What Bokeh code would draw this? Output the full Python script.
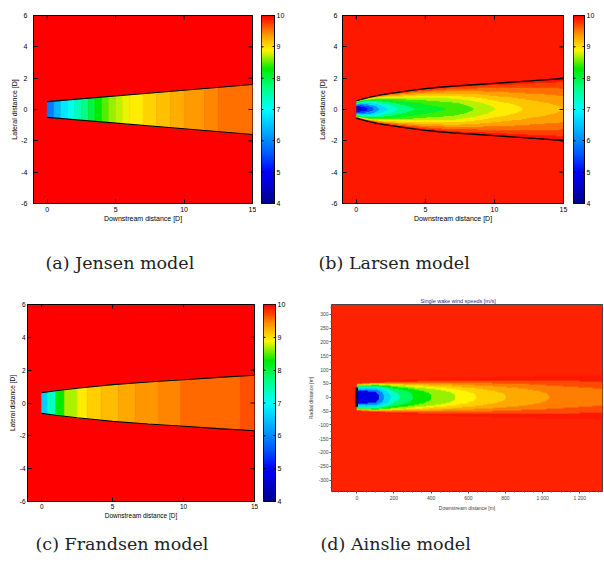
import numpy as np
from bokeh.plotting import figure
from bokeh.layouts import row, column
from bokeh.models import Range1d, FixedTicker, LinearColorMapper
from bokeh.embed import file_html
from bokeh.resources import INLINE
from bokeh.core.properties import value

# ---------------- values ----------------
cbar_ticks = [4, 5, 6, 7, 8, 9, 10]
cbar_labels = ["4", "5", "6", "7", "8", "9", "10"]
d_xticks = [0, 5, 10, 15]
d_xlabels = ["0", "5", "10", "15"]
d_yticks = [-6, -4, -2, 0, 2, 4, 6]
d_ylabels = ["-6", "-4", "-2", "0", "2", "4", "6"]

# (a) Jensen model: top-hat strips along the wake
jensen_edges = [0, 0.5, 1.0, 1.5, 2.0, 2.5, 3.0, 3.5, 4.0, 4.5, 5.0, 5.5, 6.0,
                7.0, 8.0, 9.0, 10.0, 11.5, 12.5, 15.0]
jensen_speed = [5.9, 6.4, 6.8, 7.1, 7.4, 7.7, 8.0, 8.3, 8.5, 8.65, 8.75, 8.85,
                8.95, 9.08, 9.18, 9.28, 9.38, 9.46, 9.55]
jensen_bx = [0, 15]
jensen_bw = [0.5, 1.6]

# (b) Larsen model: centre-line speed and wake half width
larsen_x = [0, 0.25, 0.5, 1, 1.5, 2, 3, 4, 5, 6, 7, 8.5, 10, 12.6, 15]
larsen_center = [4.2, 4.45, 4.7, 5.4, 6.2, 6.8, 7.5, 7.85, 8.1, 8.25, 8.35, 8.6, 8.85, 9.1, 9.25]
larsen_halfwidth = [0.55, 0.62, 0.68, 0.79, 0.88, 0.96, 1.09, 1.22, 1.33, 1.42, 1.49, 1.58,
                    1.67, 1.83, 1.98]
larsen_levels = [4, 4.6, 5.2, 5.8, 6.4, 7.0, 7.5, 7.9, 8.3, 8.6, 8.85, 9.05, 9.25,
                 9.45, 9.65, 9.85, 10.01]

# (c) Frandsen model: top-hat strips
frandsen_edges = [0, 0.4, 1.0, 1.6, 2.5, 3.2, 4.2, 5.4, 6.6, 8.2, 9.8, 14.0, 15.0]
frandsen_speed = [6.6, 7.3, 8.3, 8.7, 8.95, 9.1, 9.2, 9.3, 9.4, 9.47, 9.58, 9.68]
frandsen_bx = [0, 1, 2.5, 5, 7.5, 10, 12.5, 15]
frandsen_bw = [0.63, 0.75, 0.9, 1.12, 1.28, 1.42, 1.56, 1.69]

# (d) Ainslie model [m]
ainslie_x = [0, 50, 100, 150, 200, 300, 400, 550, 700, 900, 1100, 1320]
ainslie_center = [4.7, 4.8, 5.1, 6.4, 7.4, 8.1, 8.5, 8.85, 9.1, 9.3, 9.45, 9.55]
ainslie_halfwidth = [52, 54, 56, 58, 60, 63, 66, 69, 72, 75, 77, 80]
ainslie_levels = [4, 5.6, 6.3, 7.0, 7.6, 8.1, 8.5, 8.8, 9.0, 9.2, 9.4, 9.6, 9.8, 10.01]
ainslie_rotor_y = [-35, 35]
a_xticks = [0, 200, 400, 600, 800, 1000, 1200]
a_xlabels = ["0", "200", "400", "600", "800", "1 000", "1 200"]
a_yticks = [300, 250, 200, 150, 100, 50, 0, -50, -100, -150, -200, -250, -300]
a_ylabels = ["300", "250", "200", "150", "100", "50", "0", "-50", "-100", "-150",
             "-200", "-250", "-300"]
free_stream = 10

captions = ["(a) Jensen model", "(b) Larsen model", "(c) Frandsen model", "(d) Ainslie model"]

# ---------------- colour map (jet-like, as on the colour bars) ----------------
cmap_v = [4.0, 5.0, 5.6, 7.0, 7.7, 8.3, 8.9, 9.4, 10.0]
cmap_r = [0, 0, 0, 0, 0, 0, 255, 255, 255]
cmap_g = [0, 0, 90, 255, 255, 235, 245, 150, 0]
cmap_b = [140, 255, 255, 255, 130, 0, 0, 0, 0]


def rgb_of(v):
    v = np.asarray(v, dtype=float)
    return np.stack([np.interp(v, cmap_v, cmap_r), np.interp(v, cmap_v, cmap_g),
                     np.interp(v, cmap_v, cmap_b)], axis=-1).round().astype(int)


def hex_of(v):
    r, g, b = rgb_of(v)
    return "#%02x%02x%02x" % (r, g, b)


palette256 = [hex_of(v) for v in np.linspace(4, 10, 256)]
mapper = LinearColorMapper(palette=palette256, low=4, high=10)

SANS = "Liberation Sans"


def style_axis(ax, fs, tick_std, lab_std, tin=4, tout=0, color="black"):
    ax.major_label_text_font = SANS
    ax.major_label_text_font_size = fs
    ax.major_label_text_color = color
    ax.axis_label_text_font = SANS
    ax.axis_label_text_font_size = fs
    ax.axis_label_text_font_style = "normal"
    ax.axis_label_text_color = color
    ax.major_label_standoff = tick_std
    ax.axis_label_standoff = lab_std
    ax.major_tick_in = tin
    ax.major_tick_out = tout
    ax.minor_tick_in = 0
    ax.minor_tick_out = 0
    ax.axis_line_color = color
    ax.major_tick_line_color = color


def mirror_ticks(p, xticks, yticks):
    # MATLAB-style inward ticks on the top and right edges (half of each dash is clipped)
    p.scatter(x=xticks, y=[max(yticks)] * len(xticks), marker="dash", size=8,
              angle=np.pi / 2, line_color="black", line_width=1)
    p.scatter(x=[max(xticks)] * len(yticks), y=yticks, marker="dash", size=8,
              line_color="black", line_width=1)


def d_panel(fw, fh, mb, fs, ystd, ylstd, xstd, xlstd, bg):
    p = figure(frame_width=fw, frame_height=fh, x_range=Range1d(-1, 15), y_range=Range1d(-6, 6),
               output_backend="svg", toolbar_location=None,
               min_border_left=mb[0], min_border_right=mb[1], min_border_top=mb[2],
               min_border_bottom=mb[3], background_fill_color=bg,
               border_fill_color="white", outline_line_color="black", outline_line_width=1)
    p.grid.visible = False
    p.xaxis.ticker = FixedTicker(ticks=d_xticks, minor_ticks=[])
    p.yaxis.ticker = FixedTicker(ticks=d_yticks, minor_ticks=[])
    p.xaxis.major_label_overrides = dict(zip(d_xticks, d_xlabels))
    p.yaxis.major_label_overrides = dict(zip(d_yticks, d_ylabels))
    p.xaxis.axis_label = "Downstream distance [D]"
    p.yaxis.axis_label = "Lateral distance [D]"
    style_axis(p.xaxis[0], fs, xstd, xlstd)
    style_axis(p.yaxis[0], fs, ystd, ylstd)
    return p


def strip_patches(edges, bx, bw):
    xs_list, ys_list = [], []
    for x0, x1 in zip(edges[:-1], edges[1:]):
        inner = [x for x in bx if x0 < x < x1]
        top_x = [x0] + inner + [x1]
        top_y = list(np.interp(top_x, bx, bw))
        xs_list.append(top_x + top_x[::-1])
        ys_list.append(top_y + [-v for v in top_y[::-1]])
    return xs_list, ys_list


def draw_strips(p, edges, speeds, bx, bw):
    xs, ys = strip_patches(edges, bx, bw)
    cols = [hex_of(v) for v in speeds]
    p.patches(xs, ys, fill_color=cols, line_color=cols, line_width=0.6)
    p.line(bx, bw, line_color="black", line_width=1.1)
    p.line(bx, [-v for v in bw], line_color="black", line_width=1.1)


def band_image(x0, x1, nx, yh, ny, xp, cp, wp, levels, pe, qe, U):
    xs = x0 + (np.arange(nx) + 0.5) / nx * (x1 - x0)
    ys = -yh + (np.arange(ny) + 0.5) / ny * (2 * yh)
    uc = np.interp(xs, xp, cp)[None, :]
    R = np.interp(xs, xp, wp)[None, :]
    rr = np.abs(ys)[:, None] / R
    inside = rr < 1
    f = np.where(inside, np.clip(1 - np.clip(rr, 0, 1) ** pe, 0, 1) ** qe, 0.0)
    u = U - (U - uc) * f
    lv = np.asarray(levels, dtype=float)
    idx = np.clip(np.digitize(u, lv) - 1, 0, len(lv) - 2)
    mids = (lv[:-1] + lv[1:]) / 2
    rgb = rgb_of(mids)
    img = np.zeros((ny, nx), dtype=np.uint32)
    view = img.view(dtype=np.uint8).reshape((ny, nx, 4))
    view[..., 0] = rgb[idx, 0]
    view[..., 1] = rgb[idx, 1]
    view[..., 2] = rgb[idx, 2]
    view[..., 3] = np.where(inside, 255, 0)
    return img


def colorbar_fig(fw, fh, mb, fs):
    p = figure(frame_width=fw, frame_height=fh, x_range=Range1d(0, 1), y_range=Range1d(4, 10),
               x_axis_type=None, y_axis_location="right", output_backend="svg",
               toolbar_location=None, min_border_left=mb[0], min_border_right=mb[1],
               min_border_top=mb[2], min_border_bottom=mb[3], border_fill_color="white",
               outline_line_color="black", outline_line_width=1)
    p.grid.visible = False
    grad = np.linspace(4, 10, 256).reshape(256, 1)
    p.image(image=[grad], x=0, y=4, dw=1, dh=6, color_mapper=mapper)
    p.yaxis.ticker = FixedTicker(ticks=cbar_ticks, minor_ticks=[])
    p.yaxis.major_label_overrides = dict(zip(cbar_ticks, cbar_labels))
    style_axis(p.yaxis[0], fs, 2, 0, tin=2, tout=0)
    p.scatter(x=[0] * len(cbar_ticks), y=cbar_ticks, marker="dash", size=4,
              line_color="black", line_width=1)
    return p


def caption_fig(text, w, h, mbl):
    p = figure(frame_width=w - mbl, frame_height=h, x_range=Range1d(0, 1),
               y_range=Range1d(-1, 1), x_axis_type=None, y_axis_type=None,
               output_backend="svg", toolbar_location=None, min_border_left=mbl,
               min_border_right=0, min_border_top=0, min_border_bottom=0,
               outline_line_color=None, border_fill_color="white",
               background_fill_color="white")
    p.grid.visible = False
    p.text(x=[0], y=[0], text=[text], text_font=value("DejaVu Serif"),
           text_font_size="17.5px", text_baseline="middle", text_align="left",
           text_color="#222222")
    return p


# ---------------- (a) Jensen ----------------
pa = d_panel(219, 188, (33, 4, 15, 29), "7px", 6, 0, 3, 0, "#ff0000")
draw_strips(pa, jensen_edges, jensen_speed, jensen_bx, jensen_bw)
mirror_ticks(pa, d_xticks, d_yticks)
cba = colorbar_fig(13, 188, (5, 26, 15, 29), "7px")

# ---------------- (b) Larsen ----------------
pb = d_panel(221, 188, (42, 9, 15, 29), "7px", 5, 2, 3, 0, "#ff1800")
img_b = band_image(0, 15, 600, 2.1, 220, larsen_x, larsen_center, larsen_halfwidth,
                   larsen_levels, 1.5, 1.0, free_stream)
pb.image_rgba(image=[img_b], x=0, y=-2.1, dw=15, dh=4.2)
pb.line(larsen_x, larsen_halfwidth, line_color="black", line_width=1.3)
pb.line(larsen_x, [-v for v in larsen_halfwidth], line_color="black", line_width=1.3)
mirror_ticks(pb, d_xticks, d_yticks)
cbb = colorbar_fig(11, 188, (1, 20, 15, 29), "7px")

# ---------------- (c) Frandsen ----------------
pc = d_panel(227, 197, (27, 4, 7, 28), "6.5px", 2, 1, 2, 0, "#ff0000")
draw_strips(pc, frandsen_edges, frandsen_speed, frandsen_bx, frandsen_bw)
mirror_ticks(pc, d_xticks, d_yticks)
cbc = colorbar_fig(12, 197, (5, 25, 7, 28), "7px")

# ---------------- (d) Ainslie ----------------
pd = figure(frame_width=271, frame_height=187, x_range=Range1d(-136, 1322),
            y_range=Range1d(-341, 335), output_backend="svg", toolbar_location=None,
            min_border_left=31, min_border_right=2, min_border_top=12, min_border_bottom=33,
            background_fill_color="#ff2200", border_fill_color="white",
            outline_line_color="#444444", outline_line_width=1,
            title="Single wake wind speeds [m/s]")
pd.grid.visible = False
pd.title.text_font = SANS
pd.title.text_font_size = "5.5px"
pd.title.text_font_style = "normal"
pd.title.text_color = "#2a2a9a"
pd.title.align = "left"
pd.title.offset = 89
pd.title.standoff = 2
pd.xaxis.ticker = FixedTicker(ticks=a_xticks, minor_ticks=list(np.arange(-100, 1350, 50)))
pd.yaxis.ticker = FixedTicker(ticks=a_yticks, minor_ticks=list(np.arange(-325, 335, 25)))
pd.xaxis.major_label_overrides = dict(zip(a_xticks, a_xlabels))
pd.yaxis.major_label_overrides = dict(zip(a_yticks, a_ylabels))
pd.xaxis.axis_label = "Downstream distance [m]"
pd.yaxis.axis_label = "Radial distance [m]"
for ax in (pd.xaxis[0], pd.yaxis[0]):
    style_axis(ax, "5px", 1, 1, tin=0, tout=2, color="#444444")
    ax.minor_tick_out = 1
    ax.minor_tick_line_color = "#666666"
    ax.axis_line_color = None
img_d = band_image(0, 1322, 520, 85, 170, ainslie_x, ainslie_center, ainslie_halfwidth,
                   ainslie_levels, 2.5, 1.5, free_stream)
pd.image_rgba(image=[img_d], x=0, y=-85, dw=1322, dh=170)
pd.segment(x0=[0], y0=[ainslie_rotor_y[0]], x1=[0], y1=[ainslie_rotor_y[1]],
           line_color="#111111", line_width=2.5)

# ---------------- captions ----------------
cap_a = caption_fig(captions[0], 300, 60, 45)
cap_b = caption_fig(captions[1], 304, 60, 18)
cap_c = caption_fig(captions[2], 300, 39, 35)
cap_d = caption_fig(captions[3], 304, 39, 20)

layout = column(
    row(pa, cba, pb, cbb, spacing=0),
    row(cap_a, cap_b, spacing=0),
    row(pc, cbc, pd, spacing=0),
    row(cap_c, cap_d, spacing=0),
    spacing=0,
)

open("out.html", "w").write(file_html(layout, INLINE))
